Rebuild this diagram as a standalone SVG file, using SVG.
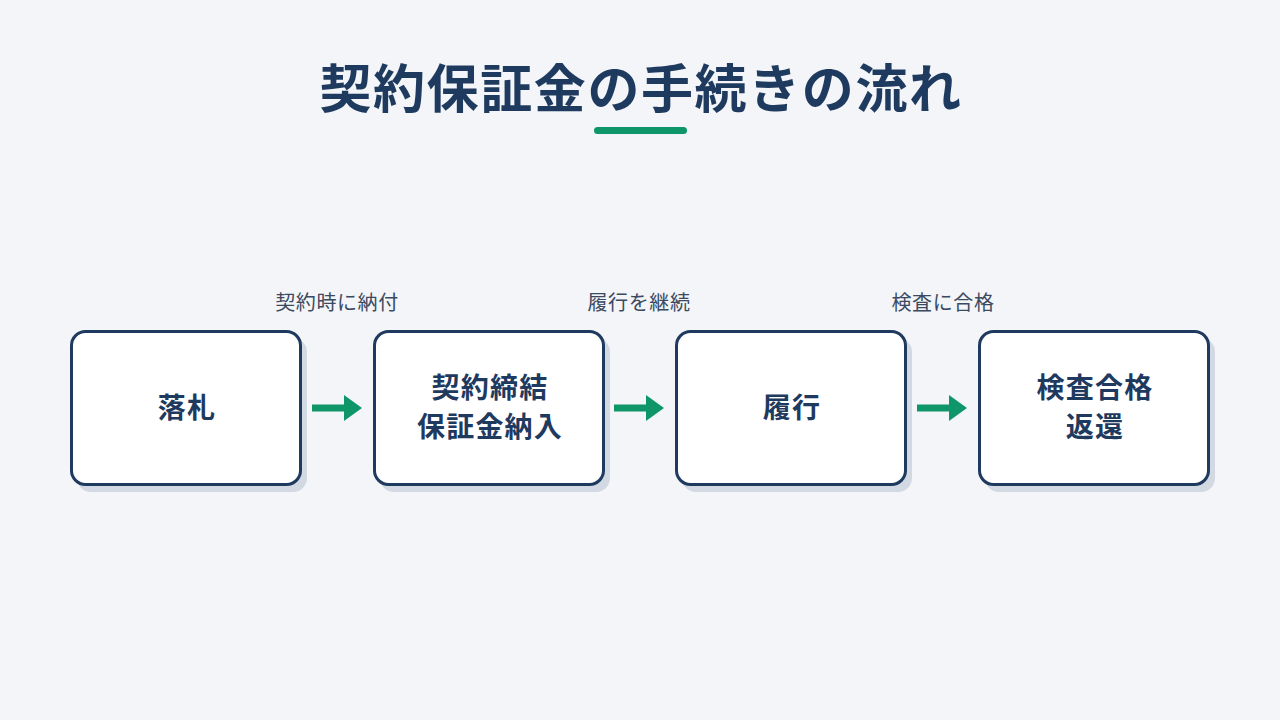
<svg xmlns="http://www.w3.org/2000/svg" width="1280" height="720" viewBox="0 0 1280 720">
<defs>
<style>
.t{font-family:"Noto Sans CJK JP","Noto Sans",sans-serif;fill:#1f3a5f;font-weight:700;text-anchor:middle}
.n{font-size:28px;letter-spacing:1.2px}
.lbl{font-family:"Noto Sans CJK JP","Noto Sans",sans-serif;fill:#3b4a60;font-size:20px;letter-spacing:0.6px;text-anchor:middle}
.box{fill:#ffffff;stroke:#1f3a5f;stroke-width:3}
.sh{fill:#d3d9e2}
.arr{fill:#0e9668}
</style>
</defs>
<rect width="1280" height="720" fill="#f3f5f8"/>
<g id="title">
<text class="t" x="641" y="108" font-size="52" letter-spacing="1.6">契約保証金の手続きの流れ</text>
<rect x="594" y="127" width="93" height="7" rx="3.5" fill="#0e9668"/>
</g>
<g id="connectors">
<g class="arr">
<rect x="312" y="404.5" width="34" height="7"/><polygon points="344,395 362,408 344,421"/>
<rect x="614" y="404.5" width="34" height="7"/><polygon points="646,395 664,408 646,421"/>
<rect x="917" y="404.5" width="34" height="7"/><polygon points="949,395 967,408 949,421"/>
</g>
<text class="lbl" x="337" y="310">契約時に納付</text>
<text class="lbl" x="639" y="310">履行を継続</text>
<text class="lbl" x="943" y="310">検査に合格</text>
</g>
<g id="n1">
<rect class="sh" x="77" y="338" width="230" height="154" rx="14"/>
<rect class="box" x="71.5" y="331.5" width="229" height="153" rx="14"/>
<text class="t n" x="187" y="418">落札</text>
</g>
<g id="n2">
<rect class="sh" x="380" y="338" width="230" height="154" rx="14"/>
<rect class="box" x="374.5" y="331.5" width="229" height="153" rx="14"/>
<text class="t n" x="490" y="398">契約締結</text>
<text class="t n" x="490" y="437">保証金納入</text>
</g>
<g id="n3">
<rect class="sh" x="682" y="338" width="230" height="154" rx="14"/>
<rect class="box" x="676.5" y="331.5" width="229" height="153" rx="14"/>
<text class="t n" x="792" y="418">履行</text>
</g>
<g id="n4">
<rect class="sh" x="985" y="338" width="230" height="154" rx="14"/>
<rect class="box" x="979.5" y="331.5" width="229" height="153" rx="14"/>
<text class="t n" x="1095" y="398">検査合格</text>
<text class="t n" x="1095" y="437">返還</text>
</g>
</svg>
